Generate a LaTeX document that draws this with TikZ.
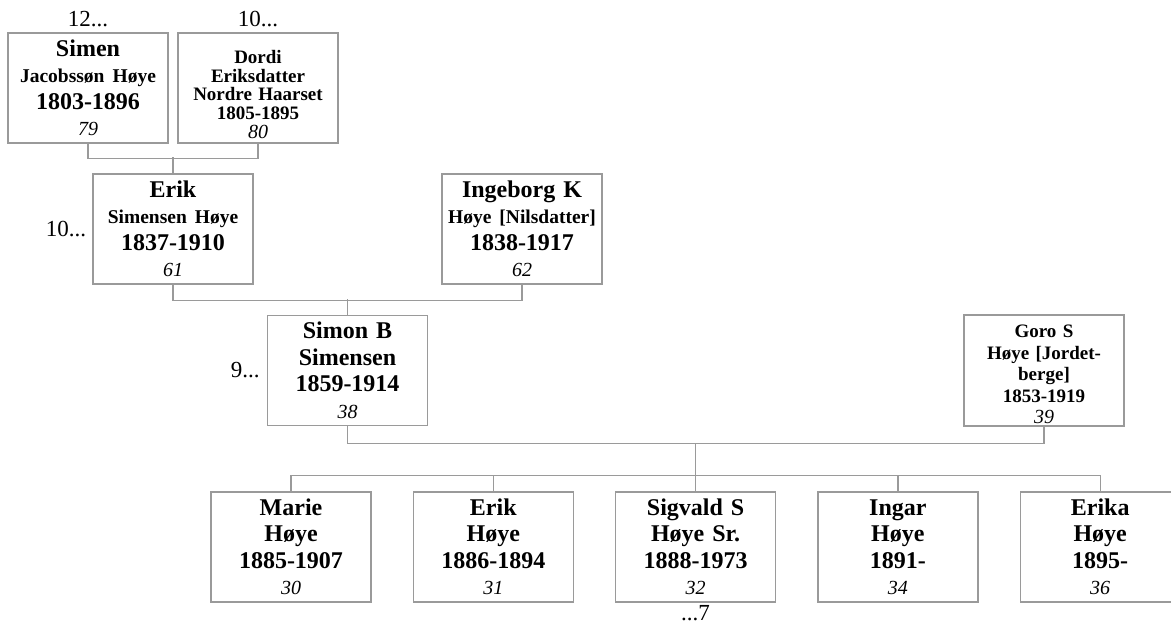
\documentclass[tikz,border=0pt]{standalone}
\usepackage{fontspec}
\setmainfont{Liberation Serif}
\usetikzlibrary{positioning}

\definecolor{boxgray}{HTML}{9A9A9A}
\newcommand{\gsub}[1]{{\fontsize{19.5}{26}\selectfont #1}}
\newcommand{\gnum}[1]{{\normalfont\itshape\fontsize{20}{26}\selectfont #1}}

\tikzset{
	person/.style={rectangle, draw=boxgray, line width=1.3pt, fill=white, inner sep=2pt,
		text width=156pt, minimum height=110pt, align=center,
		font=\fontsize{24}{26.5}\selectfont\bfseries},
	personsmall/.style={person, font=\fontsize{19}{18.8}\selectfont\bfseries},
	gen/.style={inner sep=0pt, font=\fontsize{23}{23}\selectfont},
	link/.style={draw=boxgray, line width=1.3pt},
}

\begin{document}
\begin{tikzpicture}[x=1pt, y=-1pt]
	\useasboundingbox (0,0) rectangle (1171,625);

	%% GREAT-GRANDPARENTS
	\node[person](simen) at (88,88){Simen\\\gsub{Jacobssøn Høye}\\1803-1896\\\gnum{79}};
	\node[personsmall, right=8.7pt of simen](dordi){\rule{0pt}{26pt}Dordi\\Eriksdatter\\Nordre Haarset\\1805-1895\\\gnum{80}};
	\node[gen, above=5pt of simen](gen_simen){12...};
	\node[gen, above=5pt of dordi](gen_dordi){10...};

	%% GRANDPARENTS
	\node[person](erik) at (173,229){Erik\\\gsub{Simensen Høye}\\1837-1910\\\gnum{61}};
	\node[person, right=187.7pt of erik](ingeborg){Ingeborg K\\\gsub{Høye [Nilsdatter]}\\1838-1917\\\gnum{62}};
	\node[gen, left=6pt of erik](gen_erik){10...};

	\draw[link] (simen.south) -- ++(0,15) -| (dordi.south);
	\draw[link] (erik.north) -- ++(0,-16);

	%% PARENTS
	\node[person](simon) at (347.5,370.5){Simon B\\Simensen\\1859-1914\\\gnum{38}};
	\node[personsmall, font=\fontsize{19}{21.5}\selectfont\bfseries, right=535.2pt of simon](goro){\rule{0pt}{21pt}Goro S\\Høye [Jordet-\\berge]\\1853-1919\\\gnum{39}};
	\node[gen, left=7pt of simon](gen_simon){9...};

	\draw[link] (erik.south) -- ++(0,16) -| (ingeborg.south);
	\draw[link] (simon.north) -- ++(0,-16);

	%% CHILDREN
	\node[person](marie) at (291,547){Marie\\Høye\\1885-1907\\\gnum{30}};
	\node[person, right=41pt of marie](erik_jr){Erik\\Høye\\1886-1894\\\gnum{31}};
	\node[person, right=41pt of erik_jr](sigvald){Sigvald S\\Høye Sr.\\1888-1973\\\gnum{32}};
	\node[person, right=41pt of sigvald](ingar){Ingar\\Høye\\1891-\\\gnum{34}};
	\node[person, right=41pt of ingar](erika){Erika\\Høye\\1895-\\\gnum{36}};
	\node[gen, below=3pt of sigvald](gen_sigvald){...7};

	\draw[link] (simon.south) -- ++(0,17) coordinate (simon_bar) -| (goro.south);
	\draw[link] (simon_bar -| sigvald.north) -- ([yshift=16pt]sigvald.north);
	\draw[link] ([yshift=16pt]marie.north) -- ([yshift=16pt]erika.north);
	\foreach \kid in {marie, erik_jr, sigvald, ingar, erika}
		\draw[link] (\kid.north) -- ++(0,-16);

\end{tikzpicture}
\end{document}
